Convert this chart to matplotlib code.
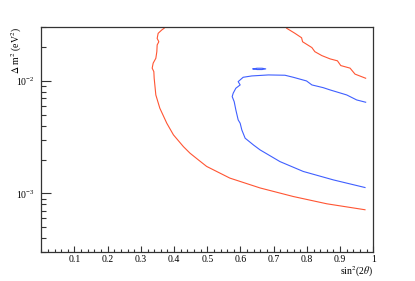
import numpy as np
import matplotlib
matplotlib.use('Agg')
import matplotlib.pyplot as plt
from matplotlib.ticker import FixedLocator, MultipleLocator, LogLocator, NullFormatter

plt.rcParams['font.family'] = ['Liberation Serif', 'DejaVu Serif']
plt.rcParams['mathtext.fontset'] = 'stix'

# outer (red) contour, left/bottom branch
red_x = [0.370, 0.363, 0.352, 0.349, 0.354, 0.349, 0.348, 0.345, 0.337, 0.334, 0.339, 0.340, 0.342,
         0.345, 0.357, 0.378, 0.398, 0.428, 0.448, 0.473, 0.498, 0.568, 0.659, 0.759, 0.860, 0.975]
red_y = [0.0294, 0.0284, 0.0265, 0.0239, 0.0223, 0.0209, 0.0182, 0.0159, 0.0144, 0.0130, 0.0121, 0.01057, 0.00922,
         0.00751, 0.00573, 0.00421, 0.00332, 0.00261, 0.00228, 0.00199, 0.00174, 0.00137, 0.00112, 0.00094, 0.00081, 0.000717]
# outer (red) contour, upper right branch
red2_x = [0.739, 0.764, 0.784, 0.787, 0.815, 0.824, 0.845, 0.870, 0.892, 0.902, 0.930, 0.945, 0.977]
red2_y = [0.0294, 0.0265, 0.0242, 0.0223, 0.0198, 0.0182, 0.0168, 0.0157, 0.0151, 0.0137, 0.0130, 0.0115, 0.01057]
# inner (blue) contour
blue_x = [0.977, 0.950, 0.920, 0.870, 0.849, 0.815, 0.799, 0.759, 0.734, 0.684, 0.634, 0.608, 0.593, 0.599,
          0.586, 0.578, 0.575, 0.581, 0.586, 0.593, 0.599, 0.604, 0.614, 0.639, 0.659, 0.719, 0.789, 0.880, 0.975]
blue_y = [0.00647, 0.00678, 0.00751, 0.00832, 0.00872, 0.00922, 0.0100, 0.01078, 0.01124, 0.01131, 0.01108, 0.01078, 0.00986, 0.00922,
          0.00862, 0.00778, 0.00726, 0.00655, 0.00553, 0.00451, 0.00421, 0.00367, 0.00310, 0.00270, 0.00244, 0.00192, 0.00157, 0.00132, 0.00113]
# small blue island
isl_x = [0.638, 0.650, 0.665, 0.676, 0.665, 0.650, 0.638]
isl_y = [0.0128, 0.01297, 0.01297, 0.0128, 0.01263, 0.01263, 0.0128]

xticks = [0.1, 0.2, 0.3, 0.4, 0.5, 0.6, 0.7, 0.8, 0.9, 1.0]
xticklabels = ['0.1', '0.2', '0.3', '0.4', '0.5', '0.6', '0.7', '0.8', '0.9', '1']

fig = plt.figure(figsize=(4.15, 2.81), dpi=100)
ax = fig.add_axes([0.0995, 0.102, 0.8, 0.801])
ax.plot(red_x, red_y, color='#ff5533', lw=0.8)
ax.plot(red2_x, red2_y, color='#ff5533', lw=0.8)
ax.plot(blue_x, blue_y, color='#3f5fff', lw=0.8)
ax.plot(isl_x, isl_y, color='#3f5fff', lw=0.8)

ax.set_yscale('log')
ax.set_xlim(0, 1); ax.set_ylim(3e-4, 3e-2)
ax.xaxis.set_major_locator(FixedLocator(xticks))
ax.set_xticklabels(xticklabels)
ax.xaxis.set_minor_locator(MultipleLocator(0.02))
ax.yaxis.set_major_locator(LogLocator(base=10))
ax.yaxis.set_minor_locator(LogLocator(base=10, subs=np.arange(2, 10)))
ax.yaxis.set_minor_formatter(NullFormatter())

ax.tick_params(axis='both', which='both', direction='in', labelsize=7, color='#333333', width=0.8)
ax.tick_params(axis='x', which='major', length=4.3, pad=2)
ax.tick_params(axis='x', which='minor', length=2.2)
ax.tick_params(axis='y', which='major', length=7.2, pad=5)
ax.tick_params(axis='y', which='minor', length=3.6)
for s in ax.spines.values(): s.set_linewidth(0.9); s.set_color('#333333')

# axis titles placed ROOT-style (right / top aligned)
ax.text(1.0, -0.055, r'sin$^{2}$(2$\theta$)', fontsize=7, ha='right', va='top', transform=ax.transAxes)
ax.text(-0.073, 1.0, r'$\Delta$ m$^{2}$ (eV$^{2}$)', fontsize=7, rotation=90, ha='center', va='top', transform=ax.transAxes)

fig.savefig('out.png', dpi=100)
